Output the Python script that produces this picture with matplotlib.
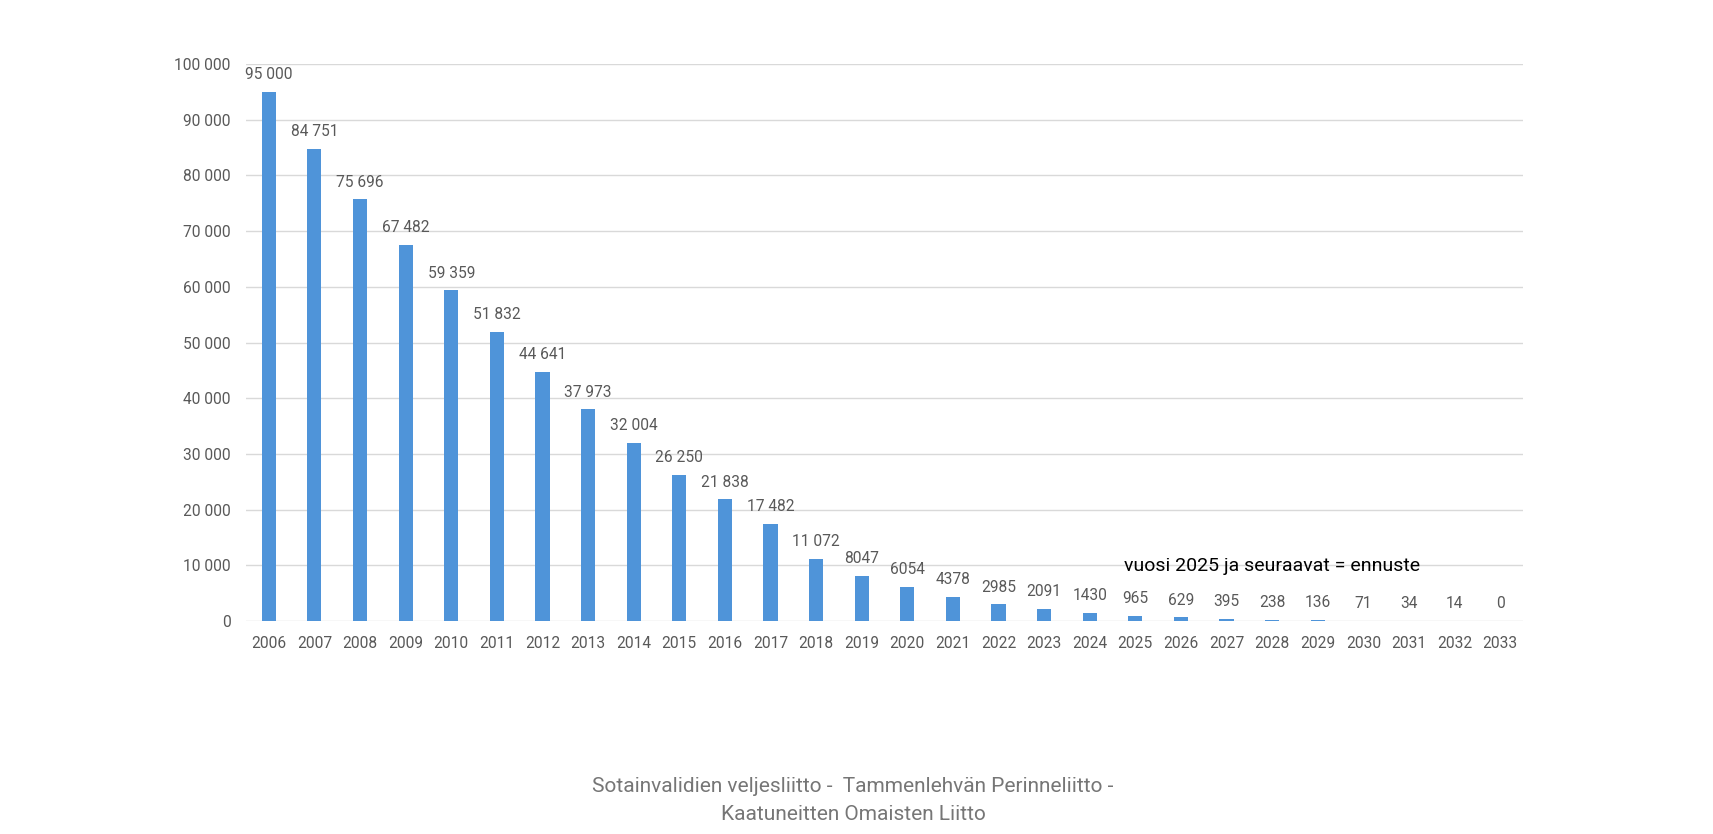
import matplotlib
matplotlib.use("Agg")
import matplotlib.pyplot as plt

years = [str(y) for y in range(2006, 2034)]
values = [95000, 84751, 75696, 67482, 59359, 51832, 44641, 37973, 32004, 26250,
          21838, 17482, 11072, 8047, 6054, 4378, 2985, 2091, 1430, 965,
          629, 395, 238, 136, 71, 34, 14, 0]
yticks = list(range(0, 100001, 10000))

def fmt(v):
    if v >= 10000:
        return f"{v:,}".replace(",", " ")
    return str(v)

W, H = 1713, 834
fig = plt.figure(figsize=(W / 100, H / 100), dpi=100)
left, right, top, bottom = 246, 1523, 64, 621
ax = fig.add_axes([left / W, 1 - bottom / H, (right - left) / W, (bottom - top) / H])

plt.rcParams['font.family'] = ['Roboto', 'DejaVu Sans']
txt = '#595959'

x = list(range(len(years)))
ax.bar(x, values, width=0.31, color='#4F94D9', zorder=3)
ax.set_xlim(-0.5, len(years) - 0.5)
ax.set_ylim(0, 100000)
ax.set_yticks(yticks)
ax.set_yticklabels([fmt(v) for v in yticks], fontsize=11.2, color=txt, family='Roboto')
ax.set_xticks(x)
ax.set_xticklabels(years, fontsize=11.2, color=txt, family='Roboto')
ax.grid(axis='y', color='#d9d9d9', linewidth=1, zorder=0)
for s in ax.spines.values():
    s.set_visible(False)
ax.tick_params(axis='both', length=0)
ax.tick_params(axis='x', pad=11)
ax.tick_params(axis='y', pad=11)

for xi, v in zip(x, values):
    ax.annotate(fmt(v), (xi, v), xytext=(0, 12.5), textcoords='offset points',
                ha='center', va='center', fontsize=11.2, color=txt, family='Roboto')

ax.text(18.75, 9900, 'vuosi 2025 ja seuraavat = ennuste', fontsize=14,
        color='black', ha='left', va='center', family='Roboto')

fig.text(853 / W, 1 - 787 / H, 'Sotainvalidien veljesliitto -  Tammenlehvän Perinneliitto -',
         ha='center', va='center', fontsize=15, color='#767676', family='Roboto')
fig.text(853 / W, 1 - 815 / H, 'Kaatuneitten Omaisten Liitto',
         ha='center', va='center', fontsize=15, color='#767676', family='Roboto')

fig.savefig('out.png', dpi=100, facecolor='white')
